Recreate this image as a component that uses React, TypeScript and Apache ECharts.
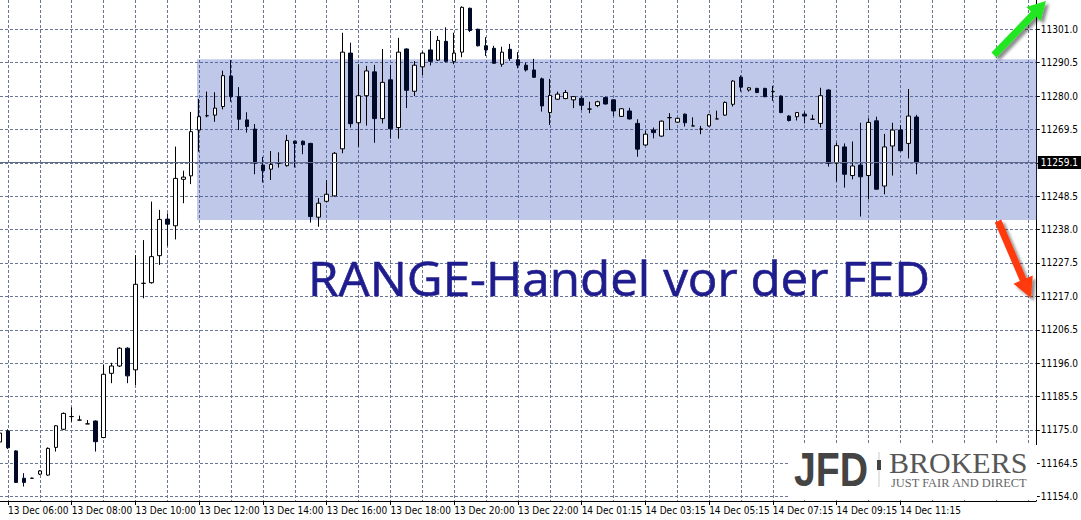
import React, { useEffect, useRef } from 'react';
import * as echarts from 'echarts';

// ---- data (15-minute candles, DAX CFD) ----
const opens = [
  11171.2, 11174.7, 11168.4, 11159.8, 11159.8, 11161.1, 11160.8, 11169.5, 11175.2, 11179.2,
  11178.1, 11176.9, 11177.8, 11172.6, 11192.8, 11195.1, 11200.7, 11193.9, 11221.1, 11221.3,
  11229.8, 11241.3, 11239.2, 11253.8, 11254.9, 11269.3, 11273.8, 11274.0, 11276.7, 11286.3,
  11279.8, 11272.5, 11269.6, 11258.3, 11257.0, 11258.9, 11258.1, 11265.8, 11265.8, 11265.1,
  11241.9, 11246.9, 11248.6, 11263.4, 11293.5, 11271.6, 11280.1, 11287.6, 11272.9, 11285.1,
  11270.1, 11294.8, 11281.5, 11289.2, 11294.5, 11291.3, 11297.2, 11290.9, 11293.8, 11307.6,
  11301.0, 11295.8, 11295.0, 11290.0, 11294.7, 11291.4, 11289.7, 11288.2, 11285.4, 11274.8,
  11279.0, 11279.2, 11278.8, 11279.3, 11275.9, 11277.0, 11279.5, 11278.8, 11273.6, 11275.3,
  11271.4, 11264.6, 11269.3, 11267.4, 11273.2, 11271.8, 11274.3, 11270.6, 11269.6, 11270.6,
  11272.8, 11274.0, 11277.4, 11285.9, 11281.9, 11282.4, 11282.4, 11281.4, 11280.0, 11273.7,
  11273.5, 11274.3, 11272.7, 11271.4, 11281.9, 11258.9, 11264.0, 11255.0, 11258.3, 11255.0,
  11272.2, 11251.7, 11264.3, 11269.3, 11265.1, 11273.4,
];
const closes = [
  11174.0, 11169.4, 11158.5, 11158.5, 11159.8, 11162.1, 11169.2, 11176.3, 11180.2, 11179.2,
  11178.1, 11176.9, 11171.3, 11192.5, 11195.1, 11200.7, 11192.0, 11220.8, 11221.1, 11229.5,
  11241.2, 11239.7, 11254.1, 11254.5, 11268.8, 11273.5, 11273.8, 11276.2, 11286.4, 11279.8,
  11272.7, 11270.4, 11258.9, 11256.5, 11258.5, 11258.9, 11266.0, 11265.1, 11264.7, 11242.1,
  11246.3, 11249.1, 11262.0, 11293.8, 11271.3, 11280.1, 11287.9, 11272.9, 11284.3, 11269.7,
  11293.8, 11281.8, 11289.7, 11293.5, 11290.9, 11297.5, 11290.9, 11293.5, 11307.9, 11300.6,
  11295.8, 11294.5, 11290.3, 11293.8, 11291.8, 11289.7, 11288.2, 11285.9, 11276.9, 11280.2,
  11280.6, 11281.1, 11279.8, 11277.1, 11275.9, 11278.2, 11277.5, 11275.3, 11276.0, 11272.8,
  11263.3, 11268.0, 11268.5, 11272.1, 11273.2, 11273.0, 11271.6, 11270.6, 11269.6, 11274.1,
  11272.8, 11278.0, 11284.7, 11282.8, 11282.6, 11281.1, 11279.8, 11281.4, 11274.8, 11272.3,
  11274.8, 11273.7, 11272.7, 11280.1, 11258.9, 11264.4, 11255.4, 11258.0, 11254.6, 11271.7,
  11250.7, 11264.0, 11269.3, 11262.8, 11273.7, 11259.1,
];
const lows = [
  11170.5, 11169.0, 11158.3, 11157.2, 11159.7, 11160.8, 11160.6, 11168.2, 11175.0, 11177.6,
  11178.1, 11176.9, 11168.2, 11172.4, 11189.7, 11194.8, 11189.7, 11189.1, 11216.4, 11221.0,
  11226.9, 11232.8, 11234.9, 11246.3, 11252.3, 11262.5, 11273.3, 11271.9, 11275.8, 11278.2,
  11269.3, 11268.5, 11255.4, 11252.8, 11253.6, 11257.5, 11257.8, 11257.5, 11261.7, 11240.2,
  11238.9, 11246.6, 11248.4, 11262.0, 11270.1, 11264.1, 11270.7, 11265.3, 11271.4, 11266.6,
  11266.6, 11276.2, 11280.0, 11286.6, 11289.6, 11291.0, 11290.6, 11290.0, 11292.2, 11300.1,
  11295.6, 11292.6, 11290.2, 11289.2, 11291.1, 11288.7, 11287.7, 11285.7, 11275.1, 11270.9,
  11278.8, 11279.0, 11276.2, 11275.6, 11274.6, 11276.5, 11277.3, 11273.7, 11273.4, 11272.6,
  11260.9, 11264.3, 11266.7, 11267.2, 11269.3, 11271.6, 11270.4, 11270.6, 11268.0, 11270.4,
  11272.8, 11273.8, 11276.7, 11281.4, 11281.4, 11280.9, 11279.6, 11278.5, 11274.6, 11272.0,
  11272.3, 11271.4, 11272.7, 11270.1, 11257.8, 11253.1, 11251.2, 11253.8, 11242.1, 11247.5,
  11250.5, 11249.1, 11255.0, 11262.6, 11260.4, 11255.4,
];
const highs = [
  11175.0, 11175.2, 11168.6, 11161.4, 11160.0, 11162.4, 11169.5, 11176.5, 11180.5, 11182.1,
  11179.5, 11178.1, 11178.0, 11195.6, 11196.1, 11201.0, 11201.0, 11230.0, 11234.7, 11246.8,
  11244.2, 11243.1, 11264.1, 11256.5, 11275.0, 11279.1, 11281.4, 11281.2, 11288.0, 11291.3,
  11282.8, 11274.9, 11271.2, 11260.9, 11262.7, 11262.3, 11267.8, 11266.0, 11266.0, 11265.3,
  11247.9, 11253.6, 11262.4, 11299.9, 11296.8, 11290.0, 11289.5, 11289.8, 11294.8, 11289.8,
  11298.3, 11295.0, 11291.0, 11294.0, 11300.5, 11298.9, 11301.6, 11299.9, 11308.2, 11307.8,
  11301.2, 11298.5, 11295.8, 11295.5, 11296.4, 11293.8, 11290.5, 11291.7, 11285.8, 11285.4,
  11281.4, 11281.9, 11280.0, 11279.8, 11278.2, 11278.5, 11279.8, 11279.0, 11276.2, 11276.3,
  11272.7, 11269.1, 11270.1, 11272.3, 11274.6, 11273.2, 11274.5, 11273.3, 11270.6, 11274.4,
  11275.4, 11278.3, 11285.0, 11286.5, 11282.8, 11282.6, 11282.6, 11283.2, 11280.2, 11274.0,
  11275.0, 11275.1, 11274.1, 11282.6, 11282.1, 11265.3, 11265.1, 11265.7, 11271.6, 11273.0,
  11273.5, 11268.1, 11271.6, 11270.9, 11282.2, 11274.1,
];

// time axis: 13 Dec 05:45 .. 22:45, then 14 Dec from 00:15
const sessionDays = ['13 Dec', '14 Dec'];
const sessionStartMinutes = [5 * 60 + 45, 15];
const firstSessionBars = 69;
const totalSlots = 131;

const yTicks = [
  11154.0, 11164.5, 11175.0, 11185.5, 11196.0, 11206.5, 11217.0, 11227.5,
  11238.0, 11248.5, 11259.0, 11269.5, 11280.0, 11290.5, 11301.0,
];
const yMin = 11152.65;
const yMax = 11310.2;
const lastPrice = 11259.1;
const rangeTop = 11291.6;
const rangeBottom = 11241.0;
const titleText = 'RANGE-Handel vor der FED';

function pad(n: number) {
  return n < 10 ? '0' + n : '' + n;
}
const categories: string[] = [];
for (let i = 0; i < totalSlots; i++) {
  const s = i < firstSessionBars ? 0 : 1;
  const m = sessionStartMinutes[s] + 15 * (s === 0 ? i : i - firstSessionBars);
  categories.push(sessionDays[s] + ' ' + pad(Math.floor(m / 60)) + ':' + pad(m % 60));
}

function arrow(tx: number, ty: number, hx: number, hy: number, shaft: number, headW: number, headL: number) {
  const dx = hx - tx, dy = hy - ty;
  const len = Math.sqrt(dx * dx + dy * dy);
  const ux = dx / len, uy = dy / len;
  const nx = -uy, ny = ux;
  const bx = hx - ux * headL, by = hy - uy * headL;
  return [
    [tx + nx * shaft / 2, ty + ny * shaft / 2],
    [bx + nx * shaft / 2, by + ny * shaft / 2],
    [bx + nx * headW / 2, by + ny * headW / 2],
    [hx, hy],
    [bx - nx * headW / 2, by - ny * headW / 2],
    [bx - nx * shaft / 2, by - ny * shaft / 2],
    [tx - nx * shaft / 2, ty - ny * shaft / 2],
  ];
}

const axisFont = "'Liberation Sans Narrow','DejaVu Sans Condensed','Liberation Sans',sans-serif";
const gridColor = '#6a7792';

export default function App() {
  const ref = useRef<HTMLDivElement>(null);
  useEffect(() => {
    if (!ref.current) return;
    const chart = echarts.init(ref.current, undefined, { renderer: 'svg' });
    const candleData = opens.map((o, i) => [o, closes[i], lows[i], highs[i]]);
    const labelIdx = (i: number) => (i - 1) % 8 === 0 && i <= 113;
    chart.setOption({
      animation: false,
      backgroundColor: '#ffffff',
      grid: { left: 0, top: 0, width: 1040, height: 501, containLabel: false },
      xAxis: {
        type: 'category',
        data: categories,
        boundaryGap: false,
        axisLine: { show: true, lineStyle: { color: '#000', width: 1 } },
        axisTick: { show: true, interval: (i: number) => labelIdx(i), length: 4, lineStyle: { color: '#000' } },
        axisLabel: {
          show: true,
          interval: (i: number) => labelIdx(i),
          align: 'left',
          margin: 4,
          color: '#000',
          fontSize: 10,
          fontFamily: axisFont,
        },
        splitLine: {
          show: true,
          interval: (i: number) => (i - 1) % 4 === 0,
          lineStyle: { color: gridColor, type: [3, 2], width: 1 },
        },
      },
      yAxis: {
        type: 'value',
        position: 'right',
        min: yMin,
        max: yMax,
        scale: true,
        axisLine: { show: true, lineStyle: { color: '#000', width: 1 } },
        axisTick: { show: true, length: 4, customValues: yTicks, lineStyle: { color: '#000' } },
        axisLabel: {
          show: true,
          customValues: yTicks.filter((v) => v !== 11259.0),
          formatter: (v: number) => v.toFixed(1),
          margin: 5,
          color: '#000',
          fontSize: 10,
          fontFamily: axisFont,
        },
        splitLine: { show: true, lineStyle: { color: gridColor, type: [3, 2], width: 1 } },
      },
      series: [
        {
          type: 'candlestick',
          data: candleData,
          barWidth: 4,
          itemStyle: {
            color: '#ffffff',
            color0: '#000a26',
            borderColor: '#000000',
            borderColor0: '#000a26',
            borderColorDoji: '#000000',
            borderWidth: 1,
          },
          markArea: {
            silent: true,
            itemStyle: { color: 'rgba(60,85,190,0.32)' },
            data: [[{ x: 197, yAxis: rangeTop }, { x: 1037, yAxis: rangeBottom }]],
          },
          markLine: {
            silent: true,
            symbol: ['none', 'none'],
            lineStyle: { color: '#5f6b86', type: 'solid', width: 1 },
            label: {
              show: true,
              position: 'end',
              distance: 2,
              formatter: () => lastPrice.toFixed(1),
              color: '#fff',
              backgroundColor: '#000',
              padding: [2, 3, 1, 3],
              fontSize: 10,
              fontFamily: axisFont,
            },
            data: [{ yAxis: lastPrice }],
          },
        },
      ],
      graphic: [
        {
          type: 'text',
          x: 308,
          y: 254,
          scaleX: 1.05,
          style: {
            text: titleText,
            fill: '#1f1d8e',
            font: "47px 'Open Sans', sans-serif",
            stroke: '#1f1d8e',
            lineWidth: 0.6,
          },
          z: 10,
        },
        {
          type: 'polygon',
          shape: { points: arrow(994, 55, 1046, 1, 7, 20, 18) },
          style: { fill: '#20e620', shadowBlur: 3, shadowColor: 'rgba(0,0,0,0.45)', shadowOffsetX: 3, shadowOffsetY: 3 },
          z: 10,
        },
        {
          type: 'polygon',
          shape: { points: arrow(998, 221, 1031, 298, 7, 21, 20) },
          style: { fill: '#ff3a10', shadowBlur: 3, shadowColor: 'rgba(0,0,0,0.45)', shadowOffsetX: 3, shadowOffsetY: 3 },
          z: 10,
        },
        {
          type: 'rect',
          shape: { x: 788, y: 445, width: 249, height: 55 },
          style: { fill: '#ffffff' },
          z: 10,
        },
        {
          type: 'text',
          x: 794,
          y: 444,
          scaleX: 0.8,
          style: { text: 'JFD', fill: '#444444', font: "bold 49px 'Liberation Sans', sans-serif" },
          z: 11,
        },
        {
          type: 'rect',
          shape: { x: 878.5, y: 452, width: 1, height: 35 },
          style: { fill: '#cccccc' },
          z: 11,
        },
        {
          type: 'rect',
          shape: { x: 877, y: 460, width: 4, height: 10 },
          style: { fill: '#444444' },
          z: 11,
        },
        {
          type: 'text',
          x: 889,
          y: 447,
          style: { text: 'BROKERS', fill: '#575757', font: "30px 'Liberation Serif', serif" },
          z: 11,
        },
        {
          type: 'text',
          x: 891,
          y: 477,
          scaleX: 1.08,
          style: { text: 'JUST FAIR AND DIRECT', fill: '#666666', font: "11.5px 'Liberation Serif', serif" },
          z: 11,
        },
      ],
    });
    return () => chart.dispose();
  }, []);
  return <div ref={ref} style={{ position: 'fixed', left: 0, top: 0, width: 1081, height: 520 }} />;
}
